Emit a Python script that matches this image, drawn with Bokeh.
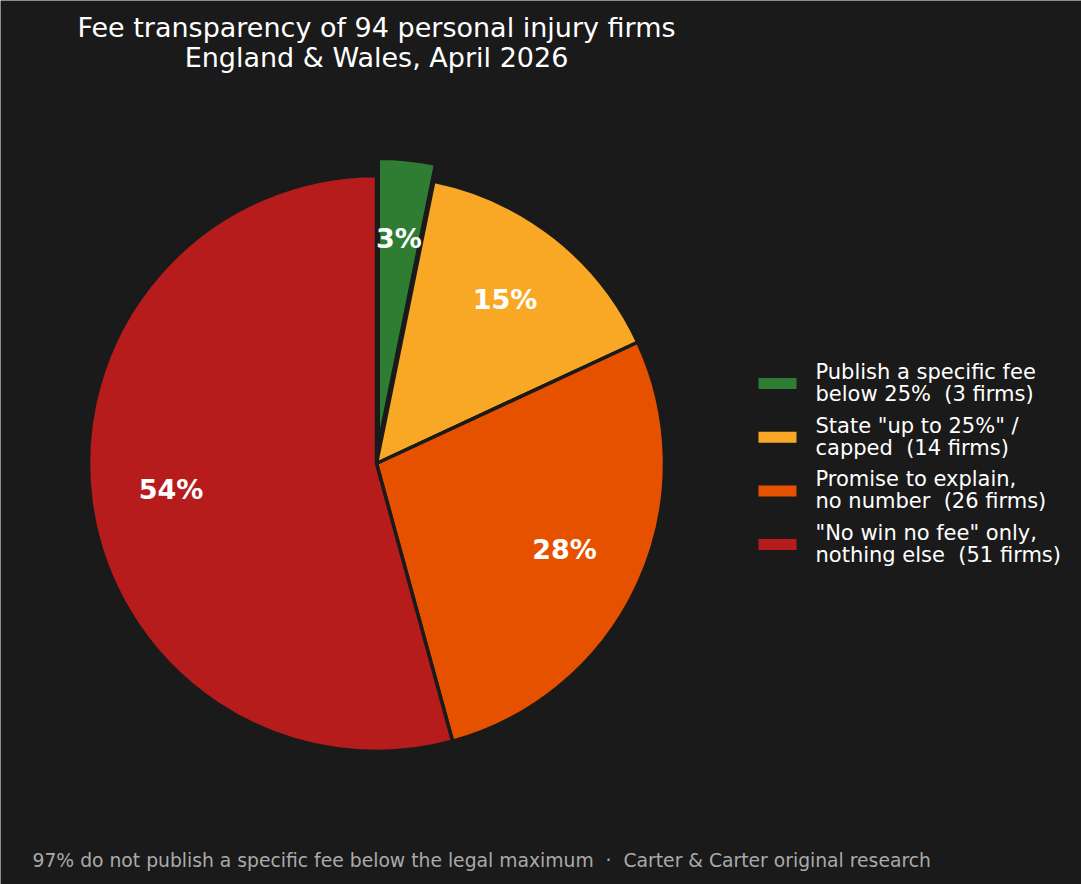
import numpy as np
from bokeh.plotting import figure
from bokeh.models import ColumnDataSource
from bokeh.core.properties import value
from bokeh.embed import file_html
from bokeh.resources import INLINE

# ---- data ----
categories = [
    'Publish a specific fee\nbelow 25%',
    'State "up to 25%" /\ncapped',
    'Promise to explain,\nno number',
    '"No win no fee" only,\nnothing else',
]
firms = [3, 14, 26, 51]
title_lines = ["Fee transparency of 94 personal injury firms", "England & Wales, April 2026"]
footer = "97% do not publish a specific fee below the legal maximum \u00a0\u00b7\u00a0 Carter & Carter original research"

# ---- styles ----
colors = ["#2e7d32", "#f9a825", "#e65100", "#b71c1c"]
explode = [0.06, 0.0, 0.0, 0.0]
BG = "#1a1a1a"
W, H = 1081, 884
cx, cy, R = 376, H - 463, 288
FONT = value("DejaVu Sans")

total = sum(firms)
fr = np.array(firms) / total
ends = np.pi / 2 - 2 * np.pi * np.cumsum(fr)
starts = np.concatenate([[np.pi / 2], ends[:-1]])
mids = (starts + ends) / 2
offs = np.array(explode) * R
wx = cx + offs * np.cos(mids)
wy = cy + offs * np.sin(mids)

p = figure(width=W, height=H, x_range=(0, W), y_range=(0, H),
           output_backend="svg", toolbar_location=None, min_border=0,
           x_axis_location=None, y_axis_location=None,
           background_fill_color=BG, border_fill_color=BG, outline_line_color=None)
p.grid.visible = False

src = ColumnDataSource(dict(x=wx, y=wy, s=starts, e=ends, c=colors))
p.wedge(x="x", y="y", radius=R, start_angle="s", end_angle="e", direction="clock",
        fill_color="c", line_color=BG, line_width=3.5, source=src)

# percentage labels
pd = 0.72 * R
lx = wx + pd * np.cos(mids)
ly = wy + pd * np.sin(mids)
pct = [f"{v * 100:.0f}%" for v in fr]
p.text(x=lx, y=ly + 1.5, text=pct, text_font=FONT, text_font_style="bold",
       text_font_size="27px", text_color="white", text_align="center", text_baseline="middle")

# title
p.text(x=[cx, cx], y=[H - 26.5, H - 56.5], text=title_lines, text_font=FONT,
       text_font_size="27px", text_color="white", text_align="center", text_baseline="middle")

# legend (manual)
ly0 = H - 383
step = 53.7
leg_y = [ly0 - i * step for i in range(len(firms))]
p.rect(x=[777] * len(firms), y=leg_y, width=38, height=11, fill_color=colors, line_color=None)
labels = [f"{c}\u00a0\u00a0({n} firms)" for c, n in zip(categories, firms)]
p.text(x=[815] * len(firms), y=[v + 0.5 for v in leg_y], text=labels, text_font=FONT,
       text_font_size="21px", text_color="white", text_align="left", text_baseline="middle",
       text_line_height=0.92)

# footer
p.text(x=[32], y=[H - 860], text=[footer], text_font=FONT, text_font_size="18.75px",
       text_color="#aaaaaa", text_align="left", text_baseline="middle")

open("out.html", "w").write(file_html(p, INLINE))
